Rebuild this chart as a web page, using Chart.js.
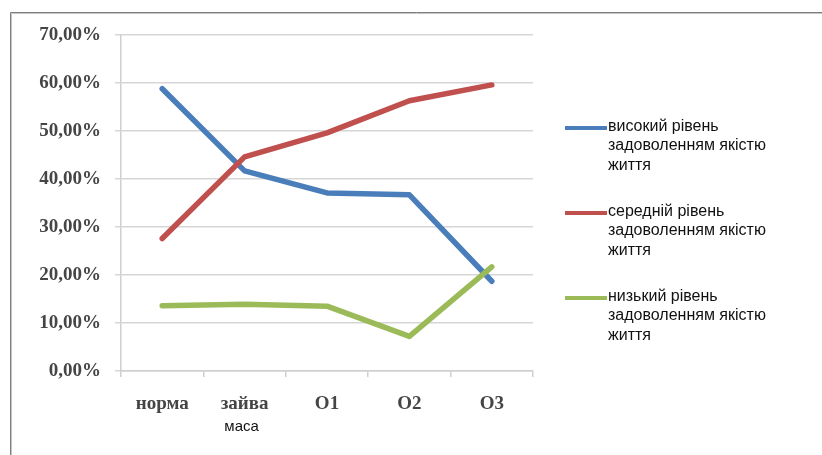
<!DOCTYPE html>
<html lang="uk">
<head>
<meta charset="utf-8">
<title>Рівень задоволенням якістю життя</title>
<script src="https://cdn.jsdelivr.net/npm/chart.js@4.4.1/dist/chart.umd.min.js"></script>
<style>
  html, body { margin: 0; padding: 0; background: #ffffff; }
  #wrap { position: relative; width: 822px; height: 455px; }
  canvas { display: block; }
</style>
</head>
<body>
<div id="wrap"><canvas id="chart" width="822" height="455"></canvas></div>
<script>
// Groups along the x axis (a second word goes on its own line)
const categories = ['норма', 'зайва маса', 'О1', 'О2', 'О3'];

// Share of respondents, %
const highLevel = [58.8, 41.7, 37.1, 36.7, 18.7];
const midLevel  = [27.6, 44.6, 49.6, 56.3, 59.6];
const lowLevel  = [13.6, 13.9, 13.5, 7.2, 21.7];

const seriesNames = [
  'високий рівень задоволенням якістю життя',
  'середній рівень задоволенням якістю життя',
  'низький рівень задоволенням якістю життя'
];
const seriesColors = ['#4a7ebb', '#c0504d', '#9bbb59'];

// Value axis range
const yMin = 0;
const yMax = 70;
const yStep = 10;

const serifFont = { family: '"Liberation Serif", "Times New Roman", serif', size: 19, weight: 'bold' };
const sansFamily = '"Liberation Sans", Arial, sans-serif';

// Grey frame along the top and left edges
const framePlugin = {
  id: 'frame',
  beforeDraw(chart) {
    const ctx = chart.ctx;
    ctx.save();
    ctx.lineWidth = 1;
    ctx.strokeStyle = '#7f7f7f';
    ctx.beginPath();
    ctx.moveTo(10.5, chart.height);
    ctx.lineTo(10.5, 12.5);
    ctx.lineTo(chart.width, 12.5);
    ctx.stroke();
    ctx.strokeStyle = '#c4c4c4';
    ctx.beginPath();
    ctx.moveTo(11.5, chart.height);
    ctx.lineTo(11.5, 13.5);
    ctx.lineTo(chart.width, 13.5);
    ctx.stroke();
    ctx.restore();
  }
};

// Second line of two-word category labels
const subLabelPlugin = {
  id: 'subLabels',
  afterDraw(chart) {
    const ctx = chart.ctx;
    const xs = chart.scales.x;
    ctx.save();
    ctx.font = '15px ' + sansFamily;
    ctx.fillStyle = '#111111';
    ctx.textAlign = 'center';
    ctx.textBaseline = 'alphabetic';
    categories.forEach((c, i) => {
      const parts = c.split(' ');
      if (parts.length > 1) {
        ctx.fillText(parts.slice(1).join(' '), xs.getPixelForValue(i) - 3, xs.bottom - 24);
      }
    });
    ctx.restore();
  }
};

// Legend on the right with wrapped labels
const sideLegendPlugin = {
  id: 'sideLegend',
  afterDraw(chart) {
    const ctx = chart.ctx;
    const x0 = chart.chartArea.right + 32;
    const maxWidth = 175;
    ctx.save();
    ctx.font = '16px ' + sansFamily;
    ctx.textBaseline = 'alphabetic';
    ctx.textAlign = 'left';
    chart.data.datasets.forEach((ds, i) => {
      const lineY = 128 + i * 85;
      ctx.strokeStyle = ds.borderColor;
      ctx.lineWidth = 4;
      ctx.lineCap = 'butt';
      ctx.beginPath();
      ctx.moveTo(x0, lineY);
      ctx.lineTo(x0 + 42, lineY);
      ctx.stroke();

      const words = ds.label.split(' ');
      const lines = [];
      let cur = '';
      words.forEach(w => {
        const t = cur ? cur + ' ' + w : w;
        if (cur && ctx.measureText(t).width > maxWidth) {
          lines.push(cur);
          cur = w;
        } else {
          cur = t;
        }
      });
      if (cur) lines.push(cur);
      ctx.fillStyle = '#111111';
      lines.forEach((ln, k) => {
        ctx.fillText(ln, x0 + 43, lineY + 3 + k * 19.3);
      });
    });
    ctx.restore();
  }
};

const datasets = [highLevel, midLevel, lowLevel].map((values, i) => ({
  label: seriesNames[i],
  data: values,
  borderColor: seriesColors[i],
  backgroundColor: seriesColors[i],
  borderWidth: 5.5,
  pointRadius: 0,
  pointHoverRadius: 0,
  tension: 0,
  borderCapStyle: 'round',
  borderJoinStyle: 'round',
  fill: false,
  order: 3 - i
}));

new Chart(document.getElementById('chart'), {
  type: 'line',
  data: { labels: categories, datasets },
  options: {
    responsive: false,
    devicePixelRatio: 1,
    animation: false,
    layout: { padding: { left: 0, right: 289, top: 35, bottom: 0 } },
    plugins: {
      legend: { display: false },
      tooltip: { enabled: false }
    },
    scales: {
      x: {
        type: 'category',
        offset: true,
        afterFit(scale) { scale.height = 84; },
        grid: {
          offset: true,
          drawOnChartArea: false,
          drawTicks: true,
          tickLength: 6,
          color: '#cfcfcf',
          lineWidth: 1.5
        },
        border: { display: true, color: '#cfcfcf', width: 1.5 },
        ticks: {
          autoSkip: false,
          maxRotation: 0,
          padding: 16,
          color: '#454545',
          font: serifFont,
          callback: (value, index) => categories[index].split(' ')[0]
        }
      },
      y: {
        min: yMin,
        max: yMax,
        afterFit(scale) { scale.width = 121; },
        grid: {
          color: '#d6d6d6',
          lineWidth: 1.5,
          drawTicks: true,
          tickLength: 6
        },
        border: { display: true, color: '#cfcfcf', width: 1.5 },
        ticks: {
          stepSize: yStep,
          padding: 14,
          color: '#454545',
          font: serifFont,
          callback: v => v.toFixed(2).replace('.', ',') + '%'
        }
      }
    }
  },
  plugins: [framePlugin, subLabelPlugin, sideLegendPlugin]
});
</script>
</body>
</html>
